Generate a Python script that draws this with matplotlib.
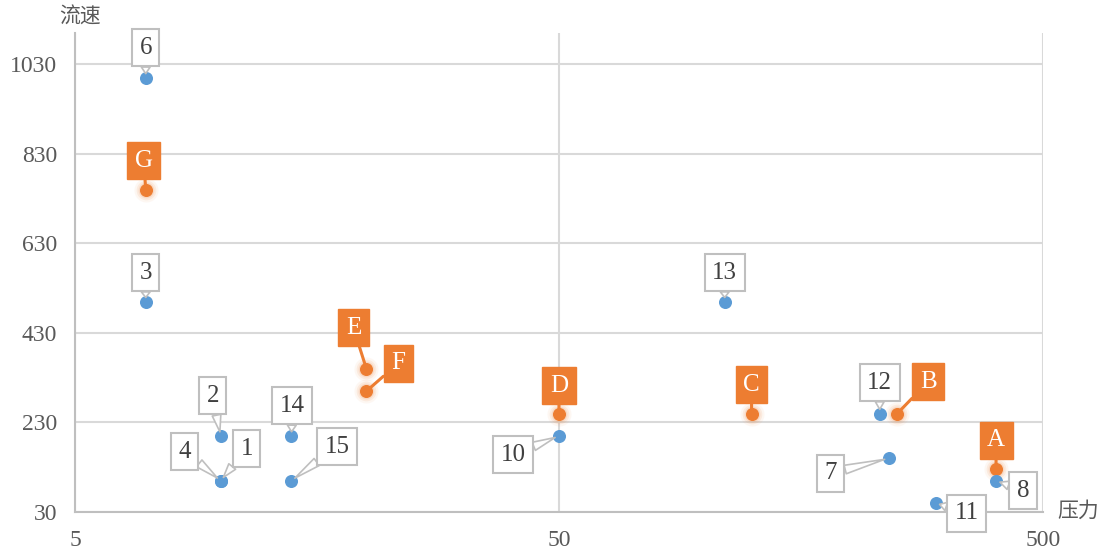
import matplotlib.pyplot as plt
from matplotlib.ticker import FixedLocator, NullLocator

# данные: синие точки (номера) и оранжевые точки (буквы)
blue_names = ['1', '2', '3', '4', '6', '7', '8', '10', '11', '12', '13', '14', '15']
blue_x = [10, 10, 7, 10, 7, 240, 400, 50, 300, 230, 110, 14, 14]
blue_y = [100, 200, 500, 100, 1000, 150, 100, 200, 50, 250, 500, 200, 100]

orange_names = ['A', 'B', 'C', 'D', 'E', 'F', 'G']
orange_x = [400, 250, 125, 50, 20, 20, 7]
orange_y = [125, 250, 250, 250, 350, 300, 750]

y_ticks = [30, 230, 430, 630, 830, 1030]
x_ticks = [5, 50, 500]

# смещения подписей в пикселях
blue_off = {'1': (26, 32), '2': (-8, 40), '3': (0, 29), '4': (-36, 29), '6': (0, 30),
            '7': (-58, -15), '8': (27, -10), '10': (-46, -19), '11': (31, -10),
            '12': (0, 31), '13': (0, 29), '14': (1, 30), '15': (46, 34)}
orange_off = {'A': (0, 29), 'B': (31, 32), 'C': (0, 29), 'D': (0, 28),
              'E': (-13, 41), 'F': (32, 28), 'G': (-2, 29)}

BLUE = '#5B9BD5'
ORANGE = '#ED7D31'
GRID = '#D9D9D9'
TXT = '#595959'
serif = ['Liberation Serif', 'Noto Sans CJK SC']

fig = plt.figure(figsize=(11.08, 5.54), dpi=100)
ax = fig.add_axes([0.0677, 0.0758, 0.8736, 0.8646])
ax.set_xscale('log')
ax.set_xlim(5, 500)
ax.set_ylim(30, 1100)

ax.xaxis.set_major_locator(FixedLocator(x_ticks))
ax.xaxis.set_minor_locator(NullLocator())
ax.set_xticklabels([str(v) for v in x_ticks])
ax.set_yticks(y_ticks)
ax.tick_params(length=0, labelsize=17, colors=TXT)
ax.tick_params(axis='y', pad=13)
ax.tick_params(axis='x', pad=13)
for lab in ax.get_xticklabels() + ax.get_yticklabels():
    lab.set_family(serif)

ax.grid(True, color=GRID, linewidth=1.5)
ax.set_axisbelow(True)
for s in ['top', 'right']:
    ax.spines[s].set_visible(False)
for s in ['left', 'bottom']:
    ax.spines[s].set_color('#BFBFBF')
    ax.spines[s].set_linewidth(1.5)

# свечение оранжевых точек
for s, a in [(300, 0.06), (200, 0.10), (130, 0.15)]:
    ax.scatter(orange_x, orange_y, s=s, color=ORANGE, alpha=a, linewidths=0, zorder=3)
ax.scatter(orange_x, orange_y, s=70, color=ORANGE, zorder=4)
ax.scatter(blue_x, blue_y, s=70, color=BLUE, zorder=4)

for n, x, y in zip(blue_names, blue_x, blue_y):
    ax.annotate(n, (x, y), xytext=blue_off[n], textcoords='offset pixels',
                ha='center', va='center', fontsize=18, color='#404040', family=serif,
                bbox=dict(boxstyle='square,pad=0.3', fc='white', ec='#BFBFBF', lw=1.5),
                arrowprops=dict(arrowstyle='wedge,tail_width=0.35,shrink_factor=0.5',
                                fc='white', ec='#BFBFBF', lw=1.2, shrinkA=0, shrinkB=3),
                zorder=5)

for n, x, y in zip(orange_names, orange_x, orange_y):
    ax.annotate(n, (x, y), xytext=orange_off[n], textcoords='offset pixels',
                ha='center', va='center', fontsize=18, color='white', family=serif,
                bbox=dict(boxstyle='square,pad=0.3', fc=ORANGE, ec=ORANGE, lw=1),
                arrowprops=dict(arrowstyle='-', color=ORANGE, lw=2.2, shrinkA=0, shrinkB=2),
                zorder=5)

fig.text(80 / 1108, 1 - 18 / 554, '流速', fontsize=15, color=TXT, family=serif,
         ha='center', va='center')
fig.text(1078 / 1108, 1 - 512 / 554, '压力', fontsize=15, color=TXT, family=serif,
         ha='center', va='center')

fig.savefig('out.png', dpi=100)
